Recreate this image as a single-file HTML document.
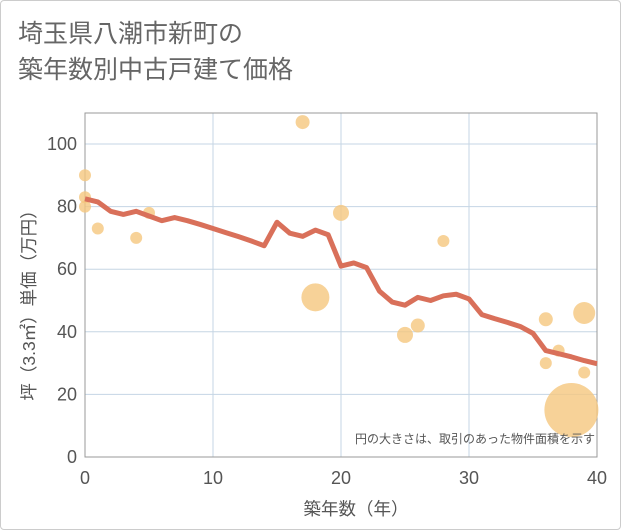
<!DOCTYPE html>
<html><head><meta charset="utf-8"><style>
body{margin:0;background:#fff;}
#wrap{position:relative;width:621px;height:530px;box-sizing:border-box;border:1px solid #ccc;border-radius:4px;background:#fff;font-family:"Liberation Sans","Noto Sans CJK JP",sans-serif;}
.title{position:absolute;left:17px;top:15px;font-size:25px;line-height:36px;color:#666;font-family:"Liberation Sans","Noto Sans CJK JP",sans-serif;}
svg{position:absolute;left:0;top:0;}
text{font-family:"Liberation Sans","Noto Sans CJK JP",sans-serif;}
</style></head><body>
<div id="wrap">
<div class="title">埼玉県八潮市新町の<br>築年数別中古戸建て価格</div>
<svg id="chart" width="621" height="530"></svg>
</div>
<script>
const xTicks=[0,10,20,30,40];
const yTicks=[0,20,40,60,80,100];
const lineYears=[0,1,2,3,4,5,6,7,8,9,10,11,12,13,14,15,16,17,18,19,20,21,22,23,24,25,26,27,28,29,30,31,32,33,34,35,36,37,38,39,40];
const lineValues=[82.5,81.5,78.5,77.5,78.5,77,75.5,76.5,75.5,74.3,73,71.7,70.4,69,67.5,75,71.5,70.5,72.5,71,61,62,60.5,53,49.5,48.5,51,50,51.5,52,50.5,45.5,44.2,43,41.7,39.5,34,33,32,30.8,29.8];
const bubbleYears=[0,0,0,1,4,5,17,18,20,25,26,28,36,36,37,39,39,38];
const bubbleValues=[90,83,80,73,70,78,107,51,78,39,42,69,44,30,34,46,27,15];
const bubbleSizes=[6,6,6,6,6,6,7,14,8,8,7,6,7,6,6,11,6,27];
const NS='http://www.w3.org/2000/svg';
const svg=document.getElementById('chart');
const X0=84,X1=596,Y0=456,Ytop=112;
const xs=v=>X0+(X1-X0)*v/40;
const ys=v=>Y0-(Y0-143)*v/100;
function mk(tag,attrs,parent){const e=document.createElementNS(NS,tag);for(const k in attrs)e.setAttribute(k,attrs[k]);(parent||svg).appendChild(e);return e;}
const grid=mk('g',{});


xTicks.forEach(t=>{const l=mk('line',{x1:xs(t),x2:xs(t),y1:Ytop,y2:Y0,stroke:'#c5d5e4','stroke-width':1},grid);


const tx=mk('text',{x:xs(t),y:483,'text-anchor':'middle','font-size':18,fill:'#555'});tx.textContent=t;

});
yTicks.forEach(t=>{const l=mk('line',{x1:X0,x2:X1,y1:ys(t),y2:ys(t),stroke:'#c5d5e4','stroke-width':1},grid);


const tx=mk('text',{x:76,y:ys(t)+6,'text-anchor':'end','font-size':18,fill:'#555'});tx.textContent=t;

});
const frame=mk('rect',{x:X0,y:Ytop,width:X1-X0,height:Y0-Ytop,fill:'none',stroke:'#999','stroke-width':1});


bubbleYears.forEach((yr,i)=>{const c=mk('circle',{cx:xs(yr),cy:ys(bubbleValues[i]),r:bubbleSizes[i],fill:'#f5c77e','fill-opacity':0.8});

});
const pts=lineYears.map((y,i)=>xs(y)+','+ys(lineValues[i])).join(' ');
const pl=mk('polyline',{points:pts,fill:'none',stroke:'#d9705a','stroke-width':5,'stroke-linejoin':'round'});


const note=mk('text',{x:594,y:442,'text-anchor':'end','font-size':12,fill:'#555'});note.textContent='円の大きさは、取引のあった物件面積を示す';


const xt=mk('text',{x:355,y:514,'text-anchor':'middle','font-size':17.5,fill:'#555'});xt.textContent='築年数（年）';


const yt=mk('text',{x:0,y:0,'text-anchor':'middle','font-size':17.5,fill:'#555',transform:'translate(34,300) rotate(-90)'});yt.textContent='坪（3.3㎡）単価（万円）';


</script>
</body></html>
